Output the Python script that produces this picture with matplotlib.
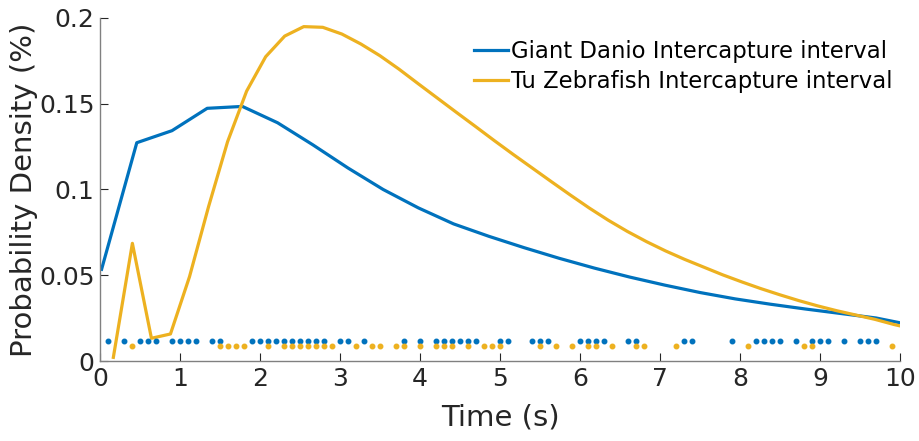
import numpy as np
import matplotlib
matplotlib.use("Agg")
import matplotlib.pyplot as plt

# curve: Giant Danio (blue)
danio_t = [0.02, 0.46, 0.90, 1.34, 1.78, 2.22, 2.66, 3.10, 3.54, 3.98, 4.42, 4.86,
           5.30, 5.74, 6.18, 6.62, 7.06, 7.50, 7.94, 8.38, 8.82, 9.26, 9.70, 10.14]
danio_pdf = [0.0536, 0.1272, 0.1342, 0.1472, 0.1483, 0.1388, 0.1260, 0.1125, 0.1000,
             0.0893, 0.0800, 0.0728, 0.0662, 0.0600, 0.0543, 0.0491, 0.0444, 0.0401,
             0.0364, 0.0333, 0.0305, 0.0279, 0.0253, 0.0212]

# curve: Tu Zebrafish (yellow)
tu_t = [0.167, 0.405, 0.643, 0.881, 1.119, 1.357, 1.595, 1.833, 2.071, 2.309, 2.547,
        2.785, 3.023, 3.261, 3.499, 3.737, 3.975, 4.213, 4.451, 4.689, 4.927, 5.165,
        5.403, 5.641, 5.879, 6.117, 6.355, 6.593, 6.831, 7.069, 7.307, 7.545, 7.783,
        8.021, 8.259, 8.497, 8.735, 8.973, 9.211, 9.449, 9.687, 9.925, 10.163]
tu_pdf = [0.0024, 0.0687, 0.0135, 0.0160, 0.0493, 0.0900, 0.1278, 0.1572, 0.1772,
          0.1892, 0.1947, 0.1943, 0.1904, 0.1846, 0.1778, 0.1700, 0.1616, 0.1533,
          0.1450, 0.1368, 0.1285, 0.1204, 0.1125, 0.1046, 0.0968, 0.0892, 0.0821,
          0.0756, 0.0697, 0.0643, 0.0594, 0.0549, 0.0504, 0.0463, 0.0424, 0.0388,
          0.0354, 0.0323, 0.0295, 0.0270, 0.0245, 0.0215, 0.0190]

# raw intervals (dots)
danio_obs = [0.1, 0.3, 0.5, 0.6, 0.7, 0.9, 1.0, 1.1, 1.2, 1.4, 1.5, 1.9, 2.0, 2.1,
             2.2, 2.3, 2.4, 2.5, 2.6, 2.7, 2.8, 3.0, 3.1, 3.3, 3.8, 4.0, 4.2, 4.3,
             4.4, 4.5, 4.6, 4.7, 5.0, 5.1, 5.4, 5.5, 5.6, 6.0, 6.1, 6.2, 6.3, 6.6,
             6.7, 7.3, 7.4, 7.9, 8.2, 8.3, 8.4, 8.5, 8.7, 8.9, 9.0, 9.1, 9.3, 9.5,
             9.6, 9.7]
tu_obs = [0.4, 1.5, 1.6, 1.7, 1.8, 2.1, 2.3, 2.4, 2.5, 2.6, 2.7, 2.8, 2.9, 3.2,
          3.4, 3.5, 3.7, 3.8, 4.0, 4.2, 4.3, 4.4, 4.6, 4.8, 4.9, 5.0, 5.5, 5.7,
          5.9, 6.1, 6.2, 6.4, 6.7, 6.8, 7.2, 8.1, 8.8, 8.9, 9.9]
danio_level = 0.0118
tu_level = 0.0092

xticks = list(range(0, 11))
yticks = [0, 0.05, 0.1, 0.15, 0.2]
ytick_labels = ["0", "0.05", "0.1", "0.15", "0.2"]

blue = "#0072BD"
yellow = "#EDB120"

plt.rcParams['font.family'] = ['DejaVu Sans']

fig = plt.figure(figsize=(9.19, 4.41), dpi=100)
ax = fig.add_axes([0.1088, 0.1803, 0.8705, 0.780])

ax.plot(danio_t, danio_pdf, color=blue, lw=2.3, label="Giant Danio Intercapture interval")
ax.plot(tu_t, tu_pdf, color=yellow, lw=2.3, label="Tu Zebrafish Intercapture interval")
ax.plot(danio_obs, [danio_level] * len(danio_obs), '.', color=blue, ms=6.5)
ax.plot(tu_obs, [tu_level] * len(tu_obs), '.', color=yellow, ms=6.5)

ax.set_xlim(0, 10)
ax.set_ylim(0, 0.2)
ax.set_xticks(xticks)
ax.set_yticks(yticks)
ax.set_yticklabels(ytick_labels)
ax.tick_params(direction='in', length=6, width=0.8, labelsize=18, colors='#262626',
               pad=4)
for s in ['top', 'right']:
    ax.spines[s].set_visible(False)
for s in ['left', 'bottom']:
    ax.spines[s].set_color('#808080')
    ax.spines[s].set_linewidth(1.0)

ax.set_xlabel("Time (s)", fontsize=21, color='#262626', labelpad=9)
ax.set_ylabel("Probability Density (%)", fontsize=21, color='#262626', labelpad=1)

leg = ax.legend(loc='upper right', bbox_to_anchor=(1.008, 0.975), frameon=False,
                fontsize=16.4, handlelength=1.5, handletextpad=0.15,
                labelspacing=0.3, borderaxespad=0.2)

fig.savefig("out.png", dpi=100)
